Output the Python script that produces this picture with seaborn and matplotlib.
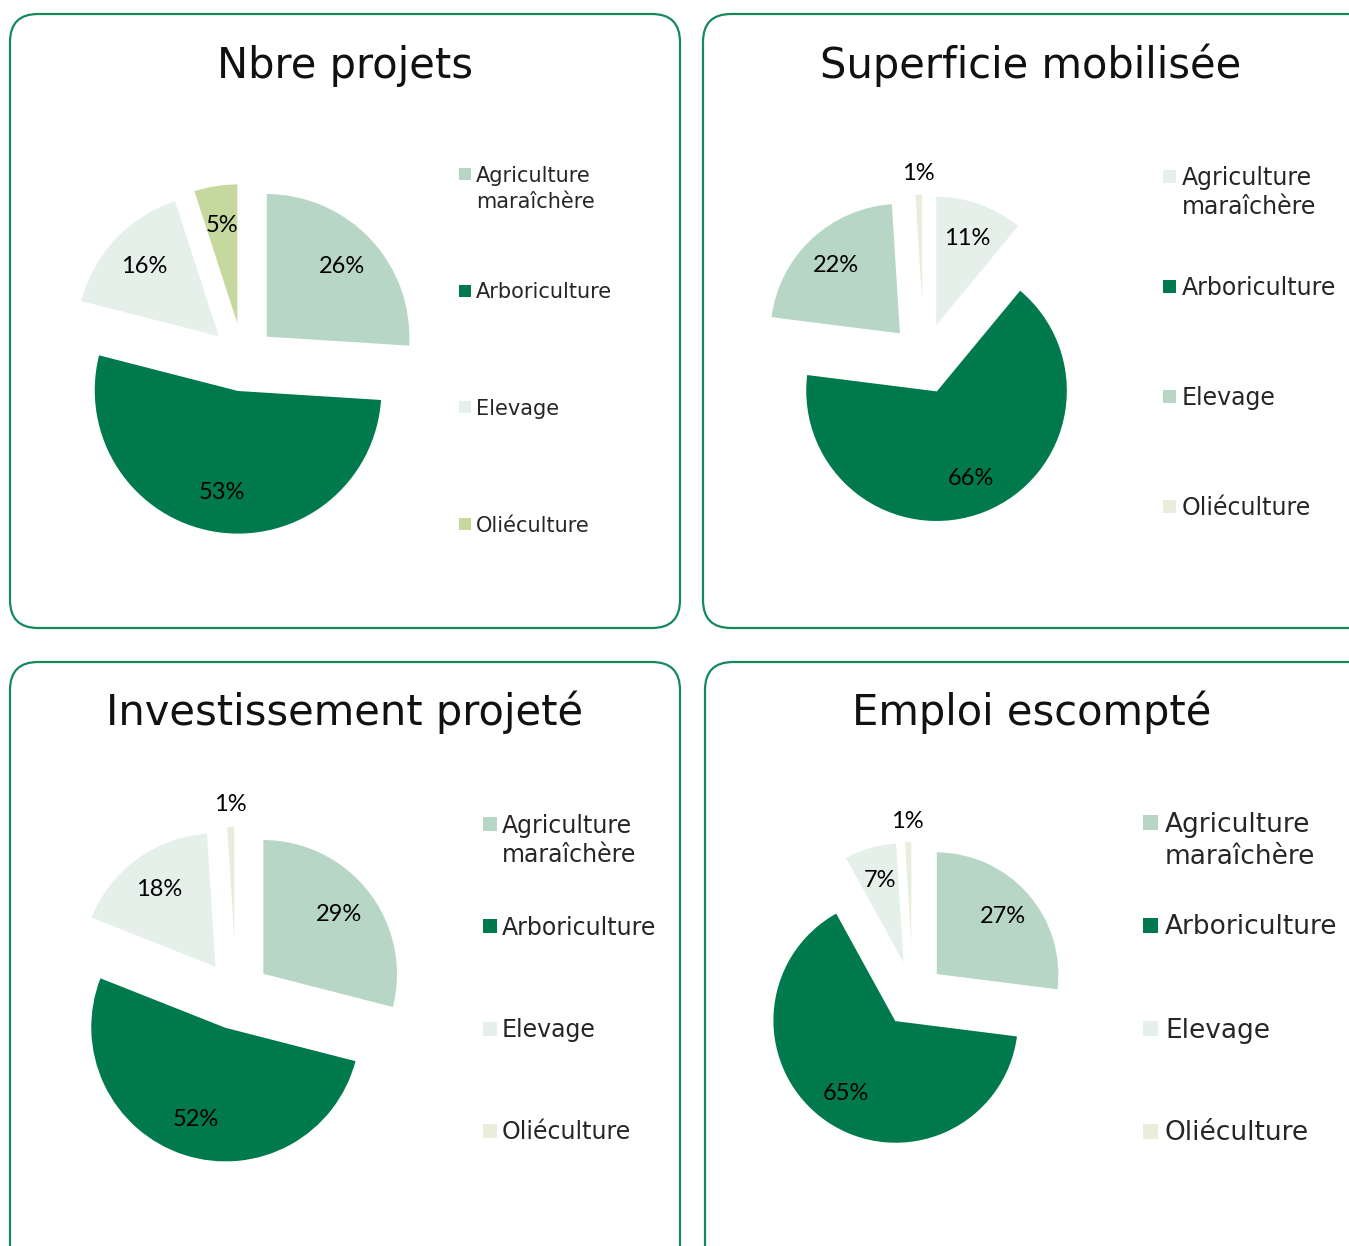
import matplotlib
matplotlib.use("Agg")
import numpy as np
import matplotlib.pyplot as plt
import seaborn as sns
from matplotlib.patches import FancyBboxPatch, Rectangle

sns.set_theme(style="white")
plt.rcParams["font.family"] = ["DejaVu Sans"]

# --- data -------------------------------------------------------------
CATEGORIES = ["Agriculture\nmaraîchère", "Arboriculture", "Elevage", "Oliéculture"]
TITLES = ["Nbre projets", "Superficie mobilisée", "Investissement projeté", "Emploi escompté"]
NB_PROJETS = [26, 53, 16, 5]
SUPERFICIE = [11, 66, 22, 1]
INVESTISSEMENT = [29, 52, 18, 1]
EMPLOI = [27, 65, 7, 1]

DARK = "#007A4D"
MID = "#B8D6C6"
PALE = "#E6F0EA"
OLIVE = "#C5D89D"
CREAM = "#E9EEDC"
PANEL_COLORS = [
    [MID, DARK, PALE, OLIVE],
    [PALE, DARK, MID, CREAM],
    [MID, DARK, PALE, CREAM],
    [MID, DARK, PALE, CREAM],
]
BORDER = "#15895B"

W, H = 1349, 1246

# layout per panel (pixels): box, title, pie centre/radius, legend
PANELS = [
    dict(box=(10, 14, 670, 614), title=(345, 78), centre=(243, 359), r=144, explode=0.22,
         leg=(459, 174), leg_step=116.7, leg_fs=15, sq=12, gap=5),
    dict(box=(703, 14, 700, 614), title=(1031, 78), centre=(924, 359), r=131, explode=0.26,
         leg=(1163, 176), leg_step=110.3, leg_fs=17, sq=13, gap=6),
    dict(box=(10, 662, 670, 640), title=(345, 725), centre=(236, 995), r=135, explode=0.25,
         leg=(483, 824), leg_step=102.3, leg_fs=17, sq=14, gap=5),
    dict(box=(705, 662, 700, 640), title=(1032, 725), centre=(913, 995), r=123, explode=0.25,
         leg=(1143, 822), leg_step=103, leg_fs=19, sq=15, gap=7),
]
VALUES = [NB_PROJETS, SUPERFICIE, INVESTISSEMENT, EMPLOI]

fig = plt.figure(figsize=(W / 100, H / 100), dpi=100)
fig.patch.set_facecolor("white")

# background axes in pixel units for frames, titles and legends
bg = fig.add_axes([0, 0, 1, 1])
bg.set_xlim(0, W)
bg.set_ylim(H, 0)
bg.axis("off")

for spec, title, values, colors in zip(PANELS, TITLES, VALUES, PANEL_COLORS):
    x0, y0, bw, bh = spec["box"]
    bg.add_patch(FancyBboxPatch((x0, y0), bw, bh, boxstyle="round,pad=0,rounding_size=28",
                                facecolor="none", edgecolor=BORDER, linewidth=1.6))
    tx, ty = spec["title"]
    bg.text(tx, ty, title, ha="center", va="baseline", fontsize=30, color="#111111")

    cx, cy = spec["centre"]
    r = spec["r"]
    ax = fig.add_axes([(cx - 1.5 * r) / W, 1 - (cy + 1.5 * r) / H, 3 * r / W, 3 * r / H])
    wedges, _, autotexts = ax.pie(
        values, colors=colors, startangle=90, counterclock=False,
        explode=[spec["explode"]] * len(values),
        autopct=lambda p: f"{p:.0f}%", pctdistance=0.72,
        textprops=dict(fontsize=17, color="black", family=["Lato", "DejaVu Sans"]),
    )
    # small slices: label sits outside the wedge
    for v, w, t in zip(values, wedges, autotexts):
        if v < 3:
            ang = np.deg2rad((w.theta1 + w.theta2) / 2)
            wx, wy = w.center
            t.set_position((wx + 1.16 * np.cos(ang), wy + 1.16 * np.sin(ang)))
    ax.set_xlim(-1.5, 1.5)
    ax.set_ylim(-1.5, 1.5)
    ax.axis("off")

    # legend: evenly spaced entries, square aligned with the first text line
    lx, ly = spec["leg"]
    fs_px = spec["leg_fs"] * 100 / 72
    sq = spec["sq"]
    for i, (cat, w) in enumerate(zip(CATEGORIES, wedges)):
        yc = ly + i * spec["leg_step"]
        bg.add_patch(Rectangle((lx, yc - sq / 2), sq, sq, facecolor=w.get_facecolor(),
                               edgecolor="none"))
        for j, line in enumerate(cat.split("\n")):
            bg.text(lx + sq + spec["gap"], yc + 0.36 * fs_px + j * 1.25 * fs_px, line,
                    ha="left", va="baseline", fontsize=spec["leg_fs"], color="#262626")

fig.savefig("out.png", dpi=100, facecolor="white")
plt.close(fig)
